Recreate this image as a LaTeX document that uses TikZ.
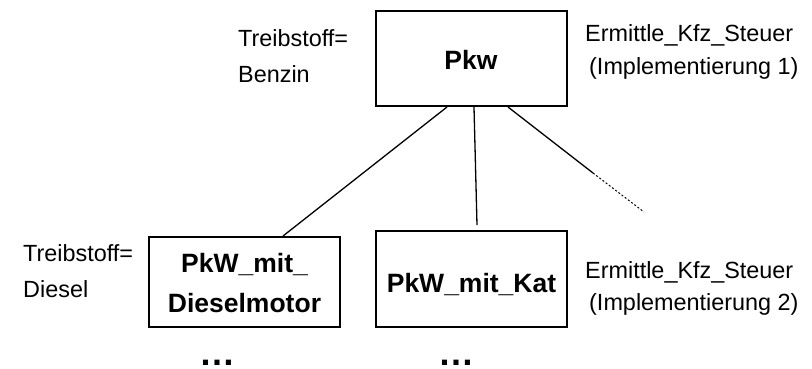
\documentclass[tikz,border=0pt]{standalone}
\usepackage{fontspec}
\setmainfont{Liberation Sans}
\usetikzlibrary{calc}
\begin{document}
\begin{tikzpicture}[x=1pt,y=-1pt,
  classbox/.style={draw=black,line width=2pt,minimum width=191pt,inner sep=0pt,
    font=\fontsize{26.5}{40}\selectfont\bfseries,align=center,text depth=0pt},
  lbl/.style={anchor=base west,inner sep=0pt,font=\fontsize{23.4}{36}\selectfont,align=left},
  conn/.style={line width=1.3pt},
  dots/.style={anchor=base,inner sep=0pt,font=\fontsize{36}{36}\selectfont\bfseries}]
\useasboundingbox (0,0) rectangle (812,368);
% boxes
\node[classbox,minimum height=95pt,text height=21pt] (pkw) at (471,58.5) {Pkw};
\node[classbox,minimum height=96pt,text height=26pt] (kat) at (471.5,279) {PkW\_mit\_Kat};
\node[classbox,minimum height=90pt,text height=60pt] (diesel) at (244.5,282) {PkW\_mit\_\\Dieselmotor};
% labels
\node[lbl] (t1) at (238,82) {Treibstoff=\\Benzin};
\node[lbl] (t2) at (23,297) {Treibstoff=\\Diesel};
\node[lbl] (e1) at (585,41) {Ermittle\_Kfz\_Steuer};
\node[lbl] (i1) at (589,74) {(Implementierung 1)};
\node[lbl] (e2) at (585,278) {Ermittle\_Kfz\_Steuer};
\node[lbl] (i2) at (589,310) {(Implementierung 2)};
\node[dots] (d1) at (217,365) {…};
\node[dots] (d2) at (456,365) {…};
% connectors
\draw[conn] ([xshift=-24pt]pkw.south) -- ([xshift=38.5pt]diesel.north);
\coordinate (katend) at (477,225);
\draw[conn] ([xshift=3pt]pkw.south) -- (katend);
\coordinate (rmid) at (593,173);
\coordinate (rend) at (644,212);
\draw[conn] ([xshift=37pt]pkw.south) -- (rmid);
\draw[line width=1pt,dash pattern=on 2pt off 2pt] (rmid) -- (rend);
\end{tikzpicture}
\end{document}
